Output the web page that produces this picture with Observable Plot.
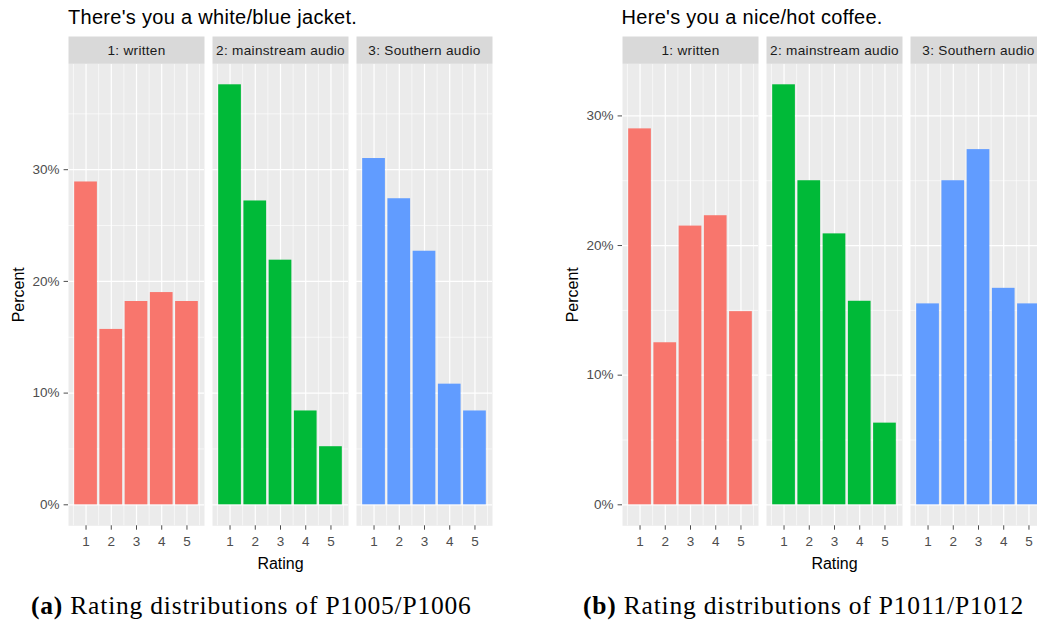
<!DOCTYPE html>
<html>
<head>
<meta charset="utf-8">
<script src="https://cdn.jsdelivr.net/npm/d3@7"></script>
<script src="https://cdn.jsdelivr.net/npm/@observablehq/plot@0.6"></script>
<style>
  body { margin: 0; background: white; }
  #root { position: relative; width: 1037px; height: 625px; overflow: hidden; background: white; }
  .chart { position: absolute; top: 0; }
  .chart svg { max-width: none !important; display: block; }
  .chart svg text.strip { letter-spacing: 0.3px; }
  .title { position: absolute; top: 6.5px; font-family: "Liberation Sans", Arial, sans-serif; font-size: 20px; line-height: 20px; letter-spacing: 0.3px; color: #000; white-space: nowrap; }
  .caption { position: absolute; top: 593px; font-family: "Liberation Serif", "Times New Roman", serif; font-size: 25.5px; line-height: 25.5px; letter-spacing: 0.8px; color: #000; white-space: nowrap; }
</style>
</head>
<body>
<div id="root">
  <div class="chart" id="chartA" style="left:0px;width:520px"></div>
  <div class="chart" id="chartB" style="left:520px;width:540px"></div>
  <div class="title" style="left:68px">There's you a white/blue jacket.</div>
  <div class="title" style="left:621.5px">Here's you a nice/hot coffee.</div>
  <div class="caption" style="left:31px"><b>(a)</b> Rating distributions of P1005/P1006</div>
  <div class="caption" style="left:583px"><b>(b)</b> Rating distributions of P1011/P1012</div>
</div>
<script>
// ---- data ----
const groups = ["1: written", "2: mainstream audio", "3: Southern audio"];
const ratings = [1, 2, 3, 4, 5];
const colors = ["#F8766D", "#00BA38", "#619CFF"];

// (a) P1005/P1006 — percent per rating
const jacketWritten    = [28.9, 15.7, 18.2, 19.0, 18.2];
const jacketMainstream = [37.6, 27.2, 21.9, 8.4, 5.2];
const jacketSouthern   = [31.0, 27.4, 22.7, 10.8, 8.4];

// (b) P1011/P1012 — percent per rating
const coffeeWritten    = [29.0, 12.5, 21.5, 22.3, 14.9];
const coffeeMainstream = [32.4, 25.0, 20.9, 15.7, 6.3];
const coffeeSouthern   = [15.5, 25.0, 27.4, 16.7, 15.5];

const yMajor = [0, 10, 20, 30];
const yMinor = [5, 15, 25, 35];
const xMinor = [0.5, 1.5, 2.5, 3.5, 4.5, 5.5];

function makeChart(series, {width, marginLeft, marginRight}) {
  const data = groups.flatMap((g, i) => ratings.map((r, j) => ({group: g, rating: r, pct: series[i][j]})));
  const max = d3.max(data, d => d.pct);
  const yDomain = [-0.05 * max, 1.05 * max];
  const major = yMajor.filter(v => v <= yDomain[1]);
  const minor = yMinor.filter(v => v <= yDomain[1]);
  const height = 580, marginTop = 63.3, marginBottom = 54.7;
  const panelH = height - marginTop - marginBottom;
  return Plot.plot({
    width, height, marginTop, marginBottom, marginLeft, marginRight,
    style: {fontFamily: "'Liberation Sans', Arial, sans-serif", background: "white", overflow: "visible"},
    fx: {domain: groups, paddingInner: 0.058, paddingOuter: 0, axis: null, label: null},
    x: {domain: [0.305, 5.695], axis: null},
    y: {domain: yDomain, axis: null},
    color: {domain: groups, range: colors},
    marks: [
      Plot.frame({fill: "#EBEBEB"}),
      Plot.gridY(minor, {stroke: "white", strokeWidth: 0.6, strokeOpacity: 1}),
      Plot.gridY(major, {stroke: "white", strokeWidth: 1.2, strokeOpacity: 1}),
      Plot.gridX(xMinor, {stroke: "white", strokeWidth: 0.6, strokeOpacity: 1}),
      Plot.gridX(ratings, {stroke: "white", strokeWidth: 1.2, strokeOpacity: 1}),
      Plot.rect(data, {fx: "group", x1: d => d.rating - 0.45, x2: d => d.rating + 0.45, y1: 0, y2: "pct", fill: "group"}),
      Plot.axisY(major, {anchor: "left", tickFormat: d => d + "%", tickSize: 4.4, tickPadding: 4.5, fontSize: 13.5, color: "#4D4D4D", label: null}),
      Plot.axisX(ratings, {anchor: "bottom", tickSize: 4.4, tickPadding: 6.5, fontSize: 13.5, color: "#4D4D4D", label: null}),
      Plot.frame({fill: "#D9D9D9", insetTop: -27.3, insetBottom: panelH}),
      Plot.text(groups, {fx: d => d, text: d => d, frameAnchor: "top", dy: -13.65, lineAnchor: "middle", fontSize: 13.6, fill: "#1A1A1A", className: "strip"}),
      Plot.text([groups[0]], {fx: d => d, text: () => "Percent", frameAnchor: "left", rotate: -90, dx: -49.7, lineAnchor: "middle", textAnchor: "middle", fontSize: 16, fill: "#000"}),
      Plot.text([groups[1]], {fx: d => d, text: () => "Rating", frameAnchor: "bottom", dy: 37.7, lineAnchor: "middle", fontSize: 16, fill: "#000"})
    ]
  });
}

function tagStrips(svg) {
  svg.querySelectorAll("g.strip text, text.strip").forEach(t => t.classList.add("strip"));
  return svg;
}

document.getElementById("chartA").append(
  tagStrips(makeChart([jacketWritten, jacketMainstream, jacketSouthern], {width: 520, marginLeft: 66.7, marginRight: 27.3}))
);
document.getElementById("chartB").append(
  tagStrips(makeChart([coffeeWritten, coffeeMainstream, coffeeSouthern], {width: 540, marginLeft: 101, marginRight: 13.3}))
);
</script>
</body>
</html>
